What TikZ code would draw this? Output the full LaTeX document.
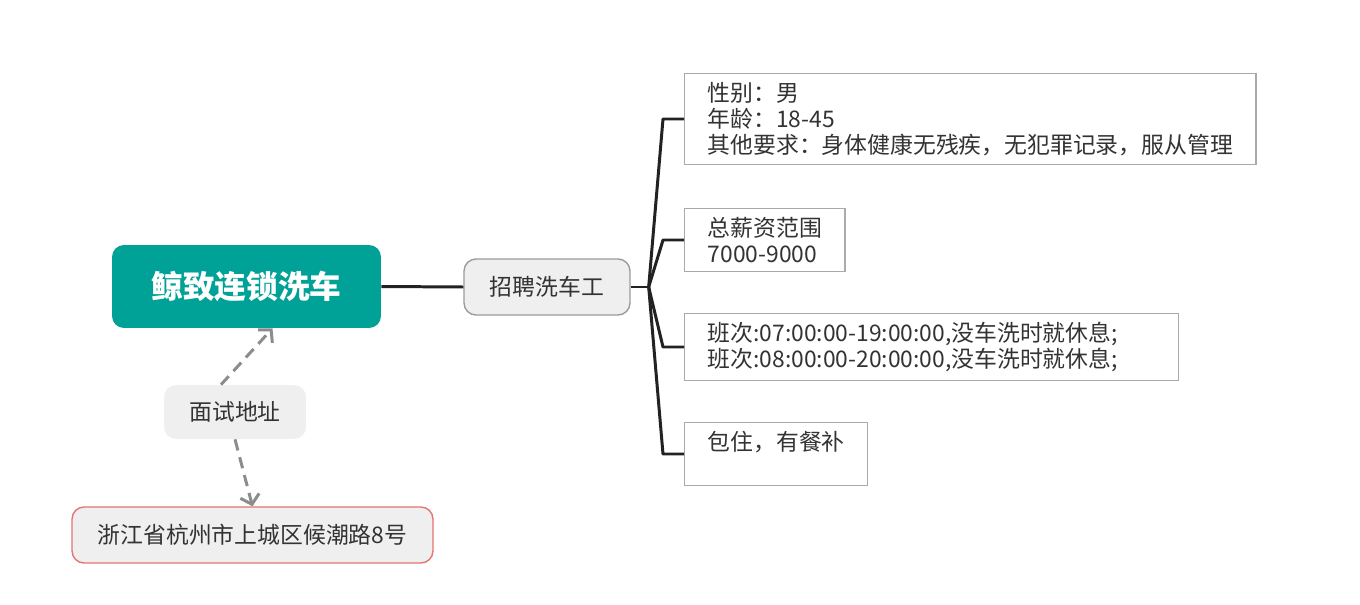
\documentclass[tikz,border=0pt]{standalone}
\usepackage{fontspec}
\setmainfont{Noto Sans CJK SC}
\usetikzlibrary{positioning}
\usetikzlibrary{calc}
\usetikzlibrary{arrows.meta}
\definecolor{brandteal}{RGB}{0,161,150}
\definecolor{softgray}{RGB}{239,239,239}
\definecolor{midgray}{RGB}{155,155,155}
\definecolor{boxgray}{RGB}{170,170,170}
\definecolor{dashgray}{RGB}{140,140,140}
\definecolor{salmon}{RGB}{229,115,115}
\definecolor{ink}{RGB}{34,34,34}
\definecolor{inkgray}{RGB}{51,51,51}
\tikzset{
  root/.style={fill=brandteal, rounded corners=0.24cm, minimum width=5.38cm, minimum height=1.66cm,
    text=white, font=\fontsize{18}{20}\selectfont\bfseries},
  topic/.style={fill=softgray, draw=midgray, line width=0.8pt, rounded corners=0.24cm,
    minimum width=3.32cm, minimum height=1.12cm, text=inkgray, font=\fontsize{13}{15}\selectfont},
  note/.style={fill=softgray, rounded corners=0.24cm, minimum width=2.84cm, minimum height=1.08cm,
    text=inkgray, font=\fontsize{13}{15}\selectfont},
  place/.style={topic, draw=salmon, minimum width=7.22cm},
  detail/.style={draw=boxgray, line width=0.8pt, fill=white, anchor=west, align=left,
    inner xsep=0.46cm, inner ysep=0.17cm, text=inkgray, font=\fontsize{13}{15}\selectfont},
  branch/.style={draw=ink, line width=1.7pt, line join=round},
  dasharrow/.style={draw=dashgray, line width=1.7pt, dash pattern=on 6.5pt off 4pt,
    -{Straight Barb[length=5pt,width=11pt]}},
}
\begin{document}
\begin{tikzpicture}[x=0.02cm, y=-0.02cm]
    \useasboundingbox[fill=white] (0,0) rectangle (1360,605);

    \node[root] (main) at (246.5,286.5) {鲸致连锁洗车};
    \node[topic] (hire) at (547,287) {招聘洗车工};
    \node[note] (interview) at (235,412) {面试地址};
    \node[place] (address) at (252.5,535) {浙江省杭州市上城区候潮路8号};

    \node[detail] (req) at (684,119) {性别：男\\年龄：18-45\\其他要求：身体健康无残疾，无犯罪记录，服从管理};
    \node[detail] (pay) at (684,240) {总薪资范围\\7000-9000};
    \node[detail, text width=8.96cm] (shift) at (684,347) {班次:07:00:00-19:00:00,没车洗时就休息;\\班次:08:00:00-20:00:00,没车洗时就休息;};
    \node[detail] (board) at (684,454) {包住，有餐补\\\mbox{}};

    \draw[branch] (main.east) -- (hire.west);
    \coordinate (fork) at ($(hire.east)+(18,0)$);
    \draw[branch] (hire.east) -- (fork);
    \foreach \b in {req,pay,shift,board}
        \draw[branch] (fork) -- ($(\b.west)+(-21,0)$) -- (\b.west);

    \draw[dasharrow] ($(interview.north)+(-14,0)$) -- ($(main.south)+(26,0)$);
    \draw[dasharrow] (interview.south) -- (address.north);
\end{tikzpicture}
\end{document}
